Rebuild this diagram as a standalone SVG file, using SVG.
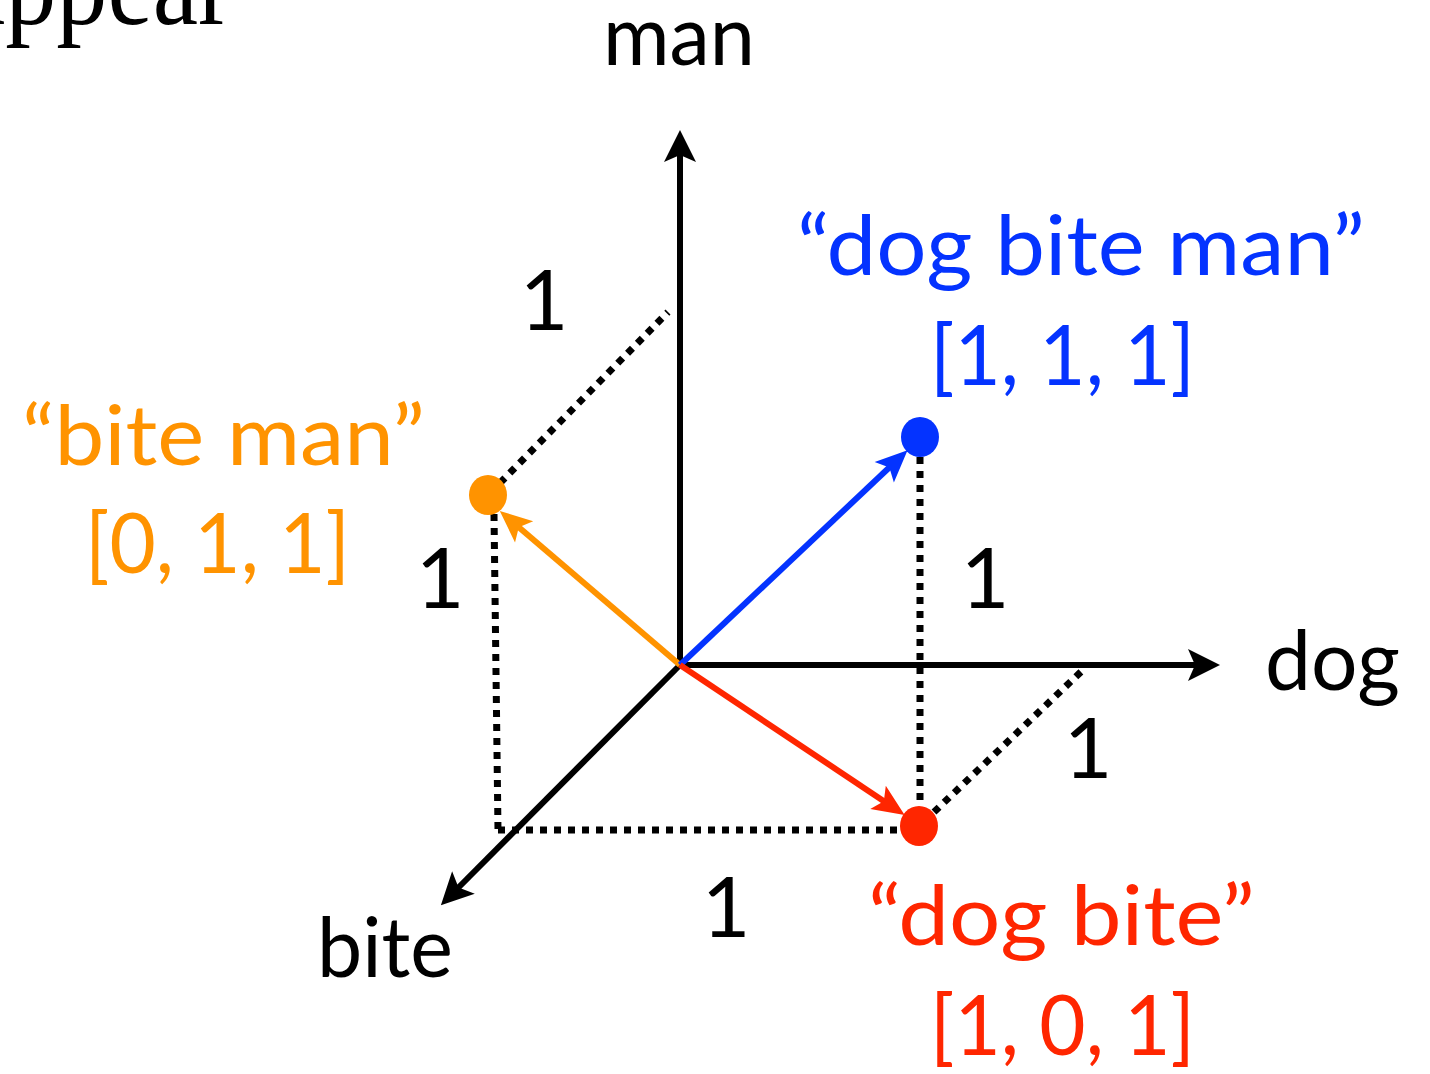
<svg xmlns="http://www.w3.org/2000/svg" width="1430" height="1074" viewBox="0 0 1430 1074">
<style>
.t{font-family:Lato,"Open Sans","Liberation Sans",sans-serif;font-size:84px}
.k{fill:#000}
.b{fill:#0433FF}
.o{fill:#FF9300}
.r{fill:#FF2600}
.ax{stroke:#000;stroke-width:6;fill:none}
.vec{stroke-width:6;fill:none}
.dot{stroke:#000;stroke-width:7;stroke-dasharray:7 7;fill:none}
</style>
<defs>
<marker id="mk" markerUnits="userSpaceOnUse" markerWidth="60" markerHeight="60" viewBox="-30 -30 60 60" refX="0" refY="0" orient="auto"><path d="M20,0 L-12,-16 L-5,0 L-12,16 Z" fill="#000"/></marker>
<marker id="mb" markerUnits="userSpaceOnUse" markerWidth="60" markerHeight="60" viewBox="-30 -30 60 60" refX="0" refY="0" orient="auto"><path d="M20,0 L-12,-14 L-5,0 L-12,14 Z" fill="#0433FF"/></marker>
<marker id="mo" markerUnits="userSpaceOnUse" markerWidth="60" markerHeight="60" viewBox="-30 -30 60 60" refX="0" refY="0" orient="auto"><path d="M20,0 L-12,-14 L-5,0 L-12,14 Z" fill="#FF9300"/></marker>
<marker id="mr" markerUnits="userSpaceOnUse" markerWidth="60" markerHeight="60" viewBox="-30 -30 60 60" refX="0" refY="0" orient="auto"><path d="M20,0 L-12,-14 L-5,0 L-12,14 Z" fill="#FF2600"/></marker>
</defs>
<rect width="1430" height="1074" fill="#fff"/>
<text x="-40" y="24" font-family="'Liberation Serif',serif" font-size="112" textLength="272" lengthAdjust="spacingAndGlyphs">appear</text>
<g id="connectors">
<line class="dot" x1="500" y1="483" x2="668" y2="312"/>
<line class="dot" x1="494" y1="514" x2="498" y2="830"/>
<line class="dot" x1="498" y1="830" x2="903" y2="830"/>
<line class="dot" x1="920" y1="457" x2="920" y2="808"/>
<line class="dot" x1="934" y1="812" x2="1085" y2="668"/>
<line class="ax" x1="680" y1="668" x2="680" y2="150" marker-end="url(#mk)"/>
<line class="ax" x1="677" y1="665" x2="1200" y2="665" marker-end="url(#mk)"/>
<line class="ax" x1="680" y1="665" x2="455" y2="891" marker-end="url(#mk)"/>
<line class="vec" stroke="#FF9300" x1="680" y1="665" x2="515" y2="524" marker-end="url(#mo)"/>
<line class="vec" stroke="#0433FF" x1="680" y1="665" x2="893" y2="464" marker-end="url(#mb)"/>
<line class="vec" stroke="#FF2600" x1="680" y1="665" x2="888" y2="804" marker-end="url(#mr)"/>
</g>
<g id="axis-man"><text class="t k" x="603" y="65" textLength="152" lengthAdjust="spacingAndGlyphs">man</text></g>
<g id="axis-dog"><text class="t k" x="1265" y="690" textLength="135" lengthAdjust="spacingAndGlyphs">dog</text></g>
<g id="axis-bite"><text class="t k" x="317" y="977" textLength="136" lengthAdjust="spacingAndGlyphs">bite</text></g>
<g id="unit-labels" class="t k" text-anchor="middle">
<text x="544" y="330">1</text>
<text x="440" y="608">1</text>
<text x="985" y="608">1</text>
<text x="1088" y="778">1</text>
<text x="726" y="937">1</text>
</g>
<g id="node-dog-bite-man">
<ellipse cx="920" cy="437" rx="19" ry="20" fill="#0433FF"/>
<text class="t b" x="797" y="275" textLength="568" lengthAdjust="spacingAndGlyphs">“dog bite man”</text>
<text class="t b" x="930" y="385" textLength="265" lengthAdjust="spacingAndGlyphs">[1, 1, 1]</text>
</g>
<g id="node-bite-man">
<ellipse cx="488" cy="495" rx="19" ry="20" fill="#FF9300"/>
<text class="t o" x="22" y="465" textLength="403" lengthAdjust="spacingAndGlyphs">“bite man”</text>
<text class="t o" x="85" y="573" textLength="265" lengthAdjust="spacingAndGlyphs">[0, 1, 1]</text>
</g>
<g id="node-dog-bite">
<ellipse cx="919" cy="826" rx="19" ry="20" fill="#FF2600"/>
<text class="t r" x="868" y="945" textLength="387" lengthAdjust="spacingAndGlyphs">“dog bite”</text>
<text class="t r" x="930" y="1055" textLength="265" lengthAdjust="spacingAndGlyphs">[1, 0, 1]</text>
</g>
</svg>
